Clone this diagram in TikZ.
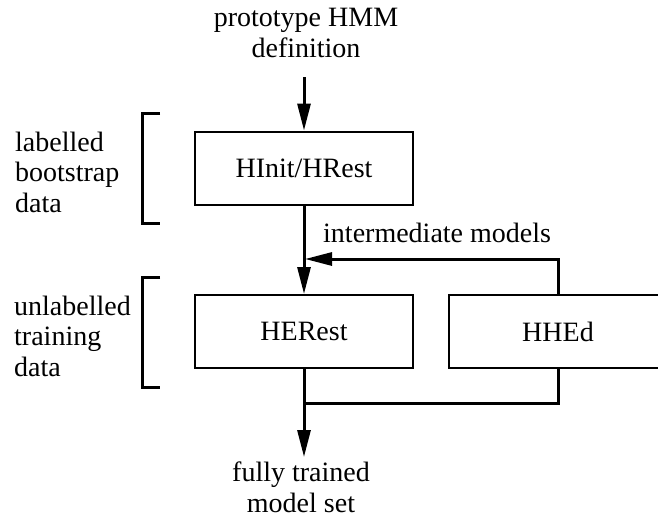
\documentclass[tikz,border=0pt]{standalone}
\usepackage{fontspec}
\setmainfont{Liberation Serif}
\usetikzlibrary{arrows.meta}
\begin{document}
\begin{tikzpicture}[x=1pt,y=-1pt,
  txt/.style={font=\fontsize{28}{30.5}\selectfont, inner sep=0pt},
  stepbox/.style={draw, line width=2pt, minimum width=218pt, minimum height=73pt,
                  inner sep=0pt, font=\fontsize{28}{30.5}\selectfont},
  flow/.style={line width=3pt},
  arr/.style={flow, -{Triangle[length=27pt,width=13pt]}},
  brace/.style={line width=3pt}]
  \useasboundingbox (0,0) rectangle (658,515);
  \clip (0,0) rectangle (658,515);

  % process boxes
  \node[stepbox] (init)   at (304,168)   {HInit/HRest};
  \node[stepbox] (herest) at (304,331.5) {HERest};
  \node[stepbox] (hhed)   at (558,331.5) {HHEd};

  % input and output labels (base anchor = last line's baseline)
  \node[txt, align=center, anchor=base] (proto) at (306,57) {prototype HMM\\definition};
  \node[txt, align=center, anchor=base] (final) at (301,512) {fully trained\\model set};
  \node[txt, anchor=base west] (inter) at (323,242) {intermediate models};

  % data labels with their brackets
  \node[txt, align=left, anchor=base west] (boot)  at (15,212) {labelled\\bootstrap\\data};
  \node[txt, align=left, anchor=base west] (train) at (14,376) {unlabelled\\training\\data};
  \draw[brace] (160,113) -- (142,113) -- (142,223) -- (160,223);
  \draw[brace] (160,277) -- (142,277) -- (142,387) -- (160,387);

  % connection points
  \coordinate (start) at (304,77);
  \coordinate (join)  at (305,259);
  \coordinate (merge) at (304,403);
  \coordinate (out)   at (304,457);

  % connectors
  \draw[arr] (start) -- (init.north);
  \draw[arr] (init.south) -- (herest.north);
  \draw[arr] (hhed.north) |- (join);
  \draw[flow] (hhed.south) |- (merge);
  \draw[arr] (herest.south) -- (out);
\end{tikzpicture}
\end{document}
